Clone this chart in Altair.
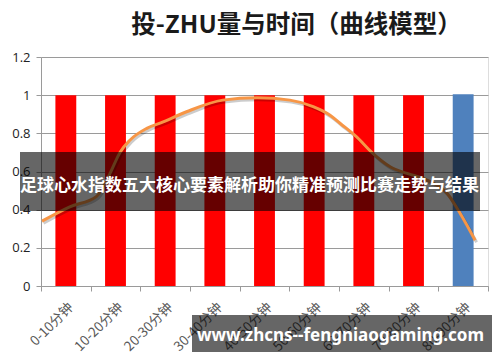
import altair as alt
import pandas as pd

# ---- data ----
categories = ["0-10分钟", "10-20分钟", "20-30分钟", "30-40分钟", "40-50分钟",
              "50-60分钟", "60-70分钟", "70-80分钟", "80-90分钟"]
bar_values = [1, 1, 1, 1, 1, 1, 1, 1, 1.005]
bar_group = ["常规", "常规", "常规", "常规", "常规", "常规", "常规", "常规", "末段"]

# curve: position in category units (0 = left edge of first band) and value
curve_pos = [0.02, 0.58, 1.12, 1.39, 1.59, 1.79, 2.13, 2.46, 2.93, 3.66, 4.35,
             5.01, 5.48, 5.82, 6.02, 6.36, 6.68, 7.03, 7.37, 7.77, 8.17, 8.44, 8.74]
curve_val = [0.34, 0.415, 0.47, 0.59, 0.70, 0.764, 0.826, 0.86, 0.913, 0.974, 0.986,
             0.974, 0.94, 0.895, 0.853, 0.78, 0.695, 0.625, 0.59, 0.555, 0.487, 0.38, 0.24]
y_ticks = [0, 0.2, 0.4, 0.6, 0.8, 1.0, 1.2]

title_text = "投-ZHU量与时间（曲线模型）"
banner_text = "足球心水指数五大核心要素解析助你精准预测比赛走势与结果"
watermark_text = "www.zhcns--fengniaogaming.com"

bars_df = pd.DataFrame({"cat": categories, "val": bar_values, "grp": bar_group})
curve_df = pd.DataFrame({"pos": curve_pos, "v": curve_val})

W, H = 447, 229
yscale = alt.Scale(domain=[0, 1.2], nice=False)
y_axis = alt.Axis(values=y_ticks, format="~g",
                  labelFontSize=13, labelColor="#222222", labelFont="Open Sans",
                  domainColor="#9a9a9a", tickColor="#9a9a9a", tickSize=5,
                  gridColor="#9a9a9a", gridWidth=1, labelPadding=6, title=None)

bars = alt.Chart(bars_df).mark_bar(width=alt.RelativeBandSize(0.42)).encode(
    x=alt.X("cat:N", sort=categories, title=None,
            scale=alt.Scale(paddingInner=0, paddingOuter=0),
            axis=alt.Axis(labelAngle=-45, labelFontSize=13.5, labelColor="#595959",
                          labelFont="Noto Sans CJK SC", tickBand="extent",
                          domainColor="#9a9a9a", tickColor="#9a9a9a", tickSize=5,
                          labelPadding=9, grid=False)),
    y=alt.Y("val:Q", scale=yscale, title=None, axis=y_axis),
    color=alt.Color("grp:N", legend=None,
                    scale=alt.Scale(domain=["常规", "末段"], range=["#FF0000", "#4F81BD"])),
)

cx = alt.X("pos:Q", scale=alt.Scale(domain=[0, 9], nice=False, zero=False), axis=None)
cy = alt.Y("v:Q", scale=yscale, axis=y_axis, title=None)

shadow = alt.Chart(curve_df).mark_line(color="#000000", opacity=0.2, strokeWidth=3,
                                       interpolate="monotone", xOffset=1.5, yOffset=2).encode(x=cx, y=cy)
curve = alt.Chart(curve_df).mark_line(color="#F79646", strokeWidth=3,
                                      interpolate="monotone").encode(x=cx, y=cy)

one = pd.DataFrame({"t": [banner_text]})
banner_rect = alt.Chart(one).mark_rect(color="#000000", opacity=0.6).encode(
    x=alt.value(-21), x2=alt.value(439), y=alt.value(95), y2=alt.value(154))
banner = alt.Chart(one).mark_text(color="white", fontSize=17, fontWeight="bold",
                                  font="Noto Sans CJK SC", align="center",
                                  baseline="middle").encode(
    text="t:N", x=alt.value(208.5), y=alt.value(129))

wm = pd.DataFrame({"t": [watermark_text]})
wm_rect = alt.Chart(wm).mark_rect(color="#000000", opacity=0.6).encode(
    x=alt.value(151), x2=alt.value(451), y=alt.value(258), y2=alt.value(295))
wm_text = alt.Chart(wm).mark_text(color="white", fontSize=17, fontWeight="bold",
                                  font="Noto Sans", align="center",
                                  baseline="alphabetic").encode(
    text="t:N", x=alt.value(299.5), y=alt.value(284))

chart = alt.layer(bars, shadow, curve, banner_rect, banner, wm_rect, wm_text).resolve_scale(
    x="independent", y="shared"
).properties(
    width=W, height=H,
    title=alt.TitleParams(title_text, fontSize=24.5, font="Noto Sans CJK SC",
                          fontWeight="bold", color="#1a1a1a", anchor="middle",
                          dx=32, offset=13),
    padding={"left": 41, "top": 57, "right": 12, "bottom": 76},
    autosize=alt.AutoSizeParams(type="none"),
).configure_view(stroke=None).configure(background="white")

chart.save("out.html", embed_options={"renderer": "svg", "actions": False})
